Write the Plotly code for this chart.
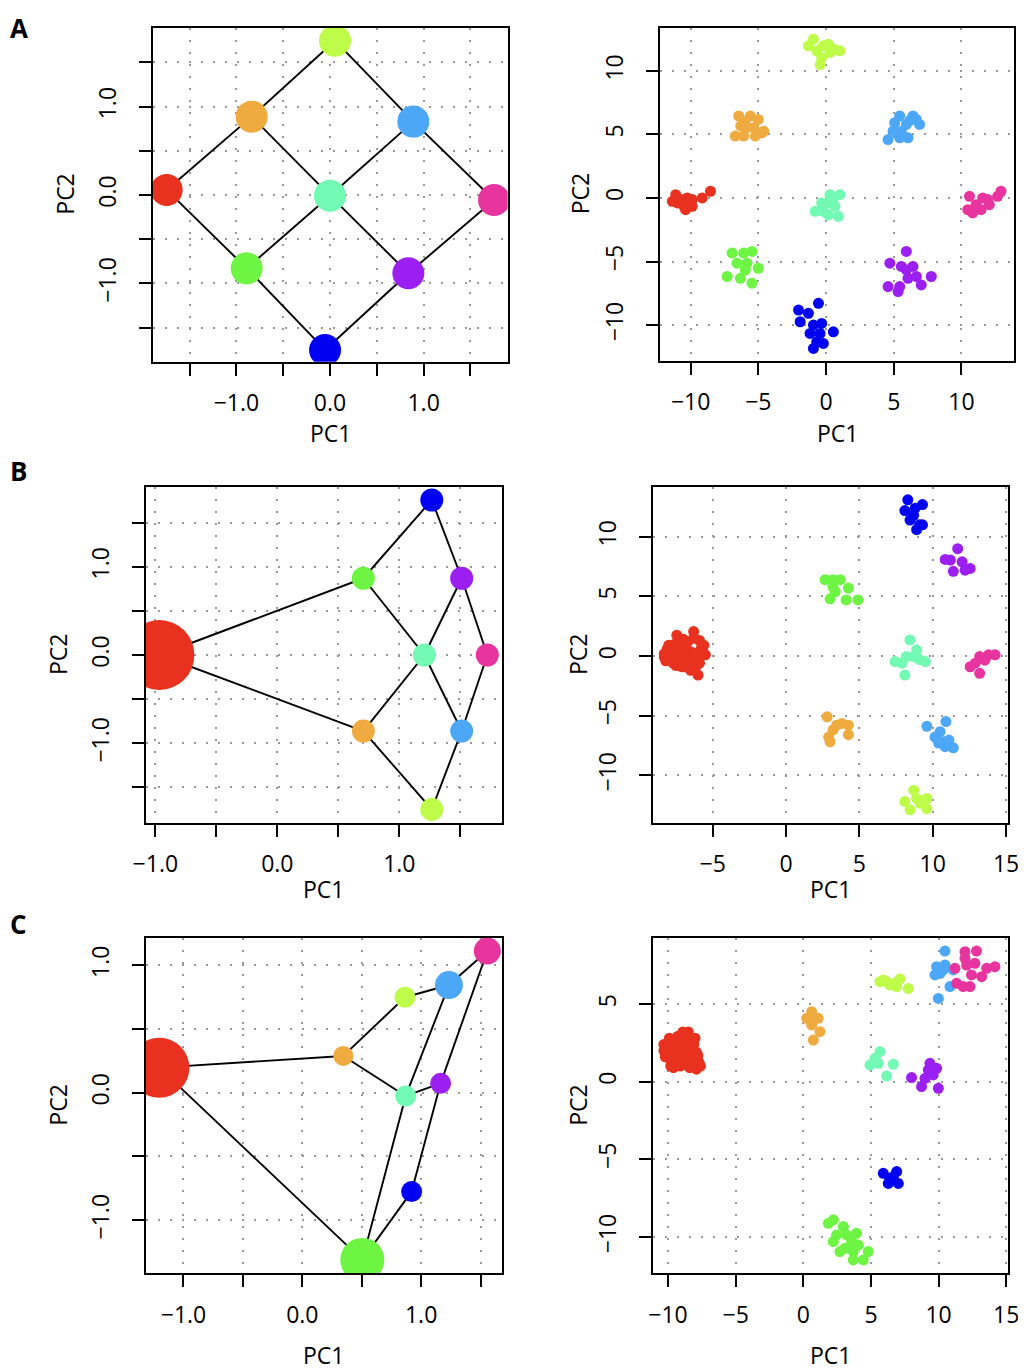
import plotly.graph_objects as go

# the page puts an 8px body margin round the figure
OFF = 8
W, H = 1026 - OFF, 1370 - OFF

# colours of the nine groups
colors = {
    'red': '#E8321F', 'orange': '#F0AB40', 'yg': '#BEFC49', 'green': '#6EF443',
    'aqua': '#72F9B4', 'lightblue': '#4CA7F6', 'darkblue': '#0000F2',
    'purple': '#9A1FF0', 'magenta': '#E8349F',
}
node_names = ['red', 'orange', 'yg', 'green', 'aqua', 'lightblue', 'darkblue', 'purple', 'magenta']

# ---- panel A, network ----
a_node_x = [-1.745, -0.837, 0.053, -0.89, 0.0, 0.89, -0.053, 0.837, 1.752]
a_node_y = [0.057, 0.886, 1.745, -0.83, -0.008, 0.83, -1.753, -0.886, -0.057]
a_node_size = [32, 32, 32, 32, 32, 32, 32, 32, 32]
a_edges = [('red', 'orange'), ('orange', 'yg'), ('yg', 'lightblue'), ('lightblue', 'magenta'),
           ('red', 'green'), ('green', 'darkblue'), ('darkblue', 'purple'), ('purple', 'magenta'),
           ('orange', 'aqua'), ('aqua', 'purple'), ('green', 'aqua'), ('aqua', 'lightblue')]

# ---- panel B, network ----
b_node_x = [-0.967, 0.705, 1.266, 0.705, 1.205, 1.511, 1.266, 1.511, 1.721]
b_node_y = [0.0, -0.862, -1.75, 0.87, 0.0, -0.862, 1.757, 0.87, 0.0]
b_node_size = [70, 23, 23, 23, 23, 23, 23, 23, 23]
b_edges = [('red', 'green'), ('red', 'orange'), ('green', 'darkblue'), ('green', 'aqua'),
           ('darkblue', 'purple'), ('purple', 'aqua'), ('purple', 'magenta'), ('aqua', 'orange'),
           ('aqua', 'lightblue'), ('magenta', 'lightblue'), ('orange', 'yg'), ('lightblue', 'yg')]

# ---- panel C, network ----
c_node_x = [-1.203, 0.345, 0.864, 0.505, 0.87, 1.234, 0.92, 1.164, 1.557]
c_node_y = [0.196, 0.288, 0.748, -1.312, -0.026, 0.844, -0.776, 0.073, 1.111]
c_node_size = [60, 20, 21, 44, 21, 28, 21, 21, 27]
c_edges = [('red', 'orange'), ('red', 'green'), ('orange', 'yg'), ('orange', 'aqua'),
           ('yg', 'lightblue'), ('lightblue', 'magenta'), ('lightblue', 'aqua'), ('magenta', 'purple'),
           ('aqua', 'purple'), ('aqua', 'green'), ('purple', 'darkblue'), ('darkblue', 'green')]

# ---- panel A, samples ----
a_pts = {
    'red': ([-11.1, -10.74, -10.25, -10.98, -10.5, -9.88, -10.37, -9.88, -9.14, -8.53, -11.35],
            [0.26, -0.13, 0.0, -0.39, -0.66, -0.66, -0.92, -0.13, 0.0, 0.53, -0.26]),
    'orange': ([-6.45, -5.59, -5.0, -6.3, -5.34, -4.73, -6.7, -6.08, -5.22, -5.83, -4.6, -6.0],
               [6.45, 6.45, 6.18, 5.66, 5.53, 5.13, 4.87, 4.87, 4.87, 5.53, 5.26, 6.0]),
    'yg': ([-0.93, -1.3, -0.69, 0.17, 0.29, 1.03, -0.44, -0.32, -0.2, 0.6],
           [12.5, 11.97, 11.58, 12.1, 11.45, 11.58, 10.5, 11.05, 11.97, 11.7]),
    'green': ([-6.94, -6.08, -5.47, -6.57, -5.83, -5.0, -7.3, -6.32, -5.47, -5.96],
              [-4.34, -4.34, -4.21, -5.13, -5.13, -5.53, -6.18, -6.32, -6.71, -5.66]),
    'aqua': ([0.29, 1.03, 0.05, 0.66, -0.81, -0.2, 0.91, 0.17, -0.32, 0.5],
             [0.26, 0.26, -0.39, -0.66, -1.05, -1.05, -1.45, -1.32, -0.39, -0.2]),
    'lightblue': ([5.44, 6.42, 5.07, 5.93, 6.91, 5.56, 4.58, 5.44, 6.05, 4.95, 6.67, 6.2],
                  [6.45, 6.45, 5.92, 5.79, 5.79, 5.26, 4.6, 4.74, 4.74, 5.26, 6.18, 6.1]),
    'darkblue': ([-0.56, -2.03, -1.3, -1.91, -0.93, -0.32, 0.54, -1.18, -0.44, -0.69, -0.93, -0.2],
                 [-8.29, -8.82, -9.08, -9.74, -10.0, -9.87, -10.53, -10.66, -10.66, -11.32, -11.84, -11.45]),
    'purple': ([5.93, 4.71, 5.56, 5.93, 6.05, 6.67, 7.77, 7.03, 4.58, 5.32, 5.44, 6.42],
               [-4.21, -5.13, -5.39, -5.66, -6.32, -6.18, -6.18, -6.84, -6.97, -7.37, -6.97, -5.39]),
    'magenta': ([10.59, 11.57, 10.47, 11.08, 12.06, 12.67, 12.92, 10.83, 11.45, 11.94],
                [0.13, 0.0, -0.92, -0.53, -0.53, 0.13, 0.53, -1.18, -0.92, -0.13]),
}

# ---- panel B, samples ----
b_pts = {
    'red': ([-8.3, -8.1, -7.9, -7.6, -7.3, -7.0, -6.7, -6.4, -6.1, -5.8, -8.2, -7.8, -7.5, -7.2, -6.9,
             -6.6, -6.3, -6.0, -5.6, -8.0, -7.7, -7.4, -7.1, -6.8, -6.5, -6.2, -5.9, -5.5, -7.45, -6.3,
             -6.0, -7.0, -6.6, -6.3, -5.9, -7.6, -7.2, -6.8, -7.9, -7.3, -6.7, -6.1, -5.7, -7.6, -7.0,
             -6.4, -8.3, -6.9],
            [0.2, 0.6, -0.2, 1.0, 0.4, -0.4, 1.2, 0.3, -0.8, 0.6, -0.4, 0.1, -0.8, 0.9, 0.0,
             -0.5, 1.5, 0.2, 0.9, 0.9, -0.6, 0.5, -0.9, 0.6, -1.2, -0.3, -0.6, 0.1, 1.75, 2.05,
             -1.6, 1.4, 0.4, -1.1, 1.3, -0.2, 0.2, -0.9, 0.5, -0.1, 0.1, -0.2, 0.4, 0.3, 0.8,
             -0.6, -0.1, -0.9]),
    'orange': ([2.8, 3.8, 4.25, 4.25, 2.9, 3.0, 3.2, 3.45],
               [-5.1, -5.65, -5.8, -6.6, -6.8, -7.2, -6.2, -5.8]),
    'yg': ([8.7, 8.1, 8.45, 9.6, 9.6, 9.15, 8.9],
           [-11.25, -12.2, -12.9, -11.95, -12.8, -12.35, -11.95]),
    'green': ([2.66, 3.2, 3.7, 3.2, 3.0, 4.25, 4.1, 4.9, 3.35],
              [6.4, 6.4, 6.4, 5.8, 4.8, 5.7, 4.7, 4.7, 5.4]),
    'aqua': ([8.45, 8.9, 7.43, 8.2, 8.7, 9.5, 8.1, 7.9, 9.1],
             [1.35, 0.5, -0.47, -0.05, -0.05, -0.47, -1.6, -0.6, -0.3]),
    'lightblue': ([9.6, 10.9, 10.5, 10.15, 10.7, 11.4, 10.85, 10.4, 11.1],
                  [-5.9, -5.5, -6.35, -6.8, -7.2, -7.7, -7.6, -7.3, -7.05]),
    'darkblue': ([8.3, 8.1, 9.3, 8.7, 8.45, 9.1, 8.9, 9.3, 8.8],
                 [13.1, 12.2, 12.7, 11.8, 11.4, 11.0, 10.6, 11.0, 12.4]),
    'purple': ([11.7, 11.2, 12.0, 12.55, 11.4, 12.2, 10.85],
               [9.0, 8.05, 7.9, 7.35, 7.1, 7.2, 8.1]),
    'magenta': ([12.55, 13.2, 13.8, 14.25, 13.2, 12.9, 13.55],
                [-0.9, -0.05, 0.1, 0.1, -1.45, -0.6, -0.35]),
}

# ---- panel C, samples ----
c_pts = {
    'red': ([-10.3, -10.1, -9.9, -9.7, -9.5, -9.3, -9.1, -8.9, -8.7, -8.5, -8.3, -8.1, -7.9, -7.7, -10.2,
             -9.8, -9.4, -9.0, -8.6, -8.2, -7.8, -9.6, -9.2, -8.8, -8.4, -8.0, -7.6, -9.9, -9.5, -9.1,
             -8.7, -8.3, -7.9, -8.9, -8.5, -9.3, -8.1, -9.7, -9.9, -9.3, -8.7, -8.1, -9.6, -9.0, -8.4,
             -7.8, -10.3, -9.2],
            [2.4, 1.9, 2.2, 1.2, 2.6, 1.5, 2.0, 3.2, 1.1, 3.2, 2.5, 1.3, 1.9, 1.2, 1.6,
             1.0, 1.9, 2.7, 1.6, 2.2, 1.7, 0.9, 1.3, 2.3, 0.9, 2.8, 1.0, 2.8, 2.3, 1.0,
             2.7, 1.4, 0.8, 1.6, 1.9, 2.9, 2.4, 1.6, 1.5, 2.4, 2.1, 1.8, 1.9, 1.3, 2.6,
             1.4, 2.0, 2.9]),
    'orange': ([0.62, 0.25, 1.1, 0.62, 1.23, 0.74, 0.49],
               [4.5, 4.08, 4.08, 3.65, 3.22, 2.68, 3.97]),
    'yg': ([5.91, 5.67, 6.4, 7.14, 6.9, 7.76, 6.77, 6.16],
           [6.55, 6.44, 6.22, 6.61, 6.12, 6.0, 6.33, 6.44]),
    'green': ([1.85, 2.22, 2.96, 3.94, 2.46, 3.2, 2.22, 3.57, 2.71, 3.69, 4.8, 3.69, 4.43, 3.08, 4.06],
              [-9.12, -8.9, -9.33, -9.76, -9.87, -9.87, -10.3, -10.3, -10.94, -10.94, -10.94, -11.48,
               -11.48, -10.73, -10.52]),
    'aqua': ([5.67, 4.93, 5.54, 6.65, 6.16, 5.3],
             [1.93, 1.07, 1.18, 1.12, 0.36, 1.5]),
    'lightblue': ([10.47, 9.85, 10.47, 10.1, 9.73, 10.84, 9.98, 10.34, 11.08],
                  [8.41, 7.4, 7.51, 6.97, 6.87, 6.12, 5.36, 7.19, 7.19]),
    'darkblue': ([5.91, 6.9, 6.4, 6.28, 7.02, 6.65],
                 [-5.9, -5.79, -6.22, -6.55, -6.55, -6.12]),
    'purple': ([9.36, 9.85, 8.0, 8.99, 9.6, 8.74, 9.98, 9.24],
               [1.18, 0.86, 0.26, 0.21, 0.43, -0.32, -0.43, 0.75]),
    'magenta': ([11.95, 12.8, 11.21, 12.07, 12.68, 13.55, 14.16, 12.43, 13.18, 11.33, 12.32, 11.82, 11.95],
                [8.37, 8.41, 7.3, 7.51, 7.62, 7.3, 7.4, 6.87, 6.76, 6.33, 6.12, 6.12, 7.94]),
}

# box of every panel in page pixels: left, right, top, bottom
boxes = [
    (152.7, 507.7, 27.7, 361.7), (660.0, 1014.0, 27.7, 361.0),
    (145.7, 501.7, 487.3, 822.7), (653.3, 1008.3, 487.3, 822.7),
    (145.7, 501.7, 938.0, 1273.3), (652.7, 1008.3, 938.3, 1273.3),
]
xranges = [[-1.894, 1.898], [-12.26, 13.88], [-1.079, 1.839], [-9.05, 15.15], [-1.318, 1.678], [-11.13, 15.15]]
yranges = [[-1.886, 1.892], [-12.83, 13.4], [-1.901, 1.901], [-13.98, 14.15], [-1.417, 1.213], [-12.34, 9.23]]

half = [-1.5, -1.0, -0.5, 0.0, 0.5, 1.0, 1.5]
half_txt = ['', '−1.0', '', '0.0', '', '1.0', '']
xticks = [
    (half, half_txt),
    ([-10, -5, 0, 5, 10], ['−10', '−5', '0', '5', '10']),
    ([-1.0, -0.5, 0.0, 0.5, 1.0, 1.5], ['−1.0', '', '0.0', '', '1.0', '']),
    ([-5, 0, 5, 10, 15], ['−5', '0', '5', '10', '15']),
    ([-1.0, -0.5, 0.0, 0.5, 1.0, 1.5], ['−1.0', '', '0.0', '', '1.0', '']),
    ([-10, -5, 0, 5, 10, 15], ['−10', '−5', '0', '5', '10', '15']),
]
yticks = [
    (half, half_txt),
    ([-10, -5, 0, 5, 10], ['−10', '−5', '0', '5', '10']),
    (half, half_txt),
    ([-10, -5, 0, 5, 10], ['−10', '−5', '0', '5', '10']),
    ([-1.0, -0.5, 0.0, 0.5, 1.0], ['−1.0', '', '0.0', '', '1.0']),
    ([-10, -5, 0, 5], ['−10', '−5', '0', '5']),
]

FONT = 'Open Sans'
fig = go.Figure()


def px_x(p):
    return (p - OFF) / W


def px_y(p):
    return 1 - (p - OFF) / H


def add_network(k, nx, ny, sizes, edges):
    xa, ya = 'x%d' % k, 'y%d' % k
    ex, ey = [], []
    for a, b in edges:
        i, j = node_names.index(a), node_names.index(b)
        ex += [nx[i], nx[j], None]
        ey += [ny[i], ny[j], None]
    fig.add_trace(go.Scatter(x=ex, y=ey, mode='lines', line=dict(color='black', width=1.9),
                             xaxis=xa, yaxis=ya, hoverinfo='skip'))
    fig.add_trace(go.Scatter(x=nx, y=ny, mode='markers', xaxis=xa, yaxis=ya,
                             marker=dict(size=sizes, color=[colors[n] for n in node_names],
                                         line=dict(width=0), opacity=1)))


def add_samples(k, pts):
    xa, ya = 'x%d' % k, 'y%d' % k
    for name in node_names:
        px_, py_ = pts[name]
        fig.add_trace(go.Scatter(x=px_, y=py_, mode='markers', xaxis=xa, yaxis=ya,
                                 marker=dict(size=11, color=colors[name], line=dict(width=0))))


add_network(1, a_node_x, a_node_y, a_node_size, a_edges)
add_samples(2, a_pts)
add_network(3, b_node_x, b_node_y, b_node_size, b_edges)
add_samples(4, b_pts)
add_network(5, c_node_x, c_node_y, c_node_size, c_edges)
add_samples(6, c_pts)

axis_common = dict(
    showline=True, mirror=True, linecolor='black', linewidth=1.7,
    ticks='outside', ticklen=12, tickwidth=1.7, tickcolor='black',
    showgrid=True, gridcolor='#999999', gridwidth=1.5, griddash='2px,10px',
    zeroline=False, automargin=False, tickfont=dict(family=FONT, size=23, color='black'),
)

layout = {}
annotations = []
for k in range(6):
    l, r, t, b = boxes[k]
    n = k + 1
    xk = 'xaxis' if n == 1 else 'xaxis%d' % n
    yk = 'yaxis' if n == 1 else 'yaxis%d' % n
    layout[xk] = dict(axis_common, domain=[px_x(l), px_x(r)], range=xranges[k], anchor='y%d' % n,
                      tickmode='array', tickvals=xticks[k][0], ticktext=xticks[k][1],
                      ticklabelstandoff=8)
    layout[yk] = dict(axis_common, domain=[px_y(b), px_y(t)], range=yranges[k], anchor='x%d' % n,
                      tickmode='array', tickvals=yticks[k][0], ticktext=yticks[k][1],
                      tickangle=-90, ticklabelstandoff=14)

# axis titles, page pixel positions
pc1_y = [433, 433, 889, 889, 1355, 1355]
pc2_x = [65, 580, 58, 578, 58, 578]
for k in range(6):
    l, r, t, b = boxes[k]
    annotations.append(dict(text='PC1', x=px_x((l + r) / 2), y=px_y(pc1_y[k]), xref='paper', yref='paper',
                            showarrow=False, font=dict(family=FONT, size=23, color='black'),
                            xanchor='center', yanchor='middle'))
    annotations.append(dict(text='PC2', x=px_x(pc2_x[k]), y=px_y((t + b) / 2), xref='paper', yref='paper',
                            showarrow=False, textangle=-90, font=dict(family=FONT, size=23, color='black'),
                            xanchor='center', yanchor='middle'))

# panel letters; A hangs from the top edge so it is not cut
annotations.append(dict(text='<b>A</b>', x=px_x(8), y=1, xref='paper', yref='paper',
                        showarrow=False, font=dict(family=FONT, size=26, color='black'),
                        xanchor='left', yanchor='top'))
for letter, ly in [('B', 471), ('C', 924)]:
    annotations.append(dict(text='<b>%s</b>' % letter, x=px_x(8), y=px_y(ly), xref='paper', yref='paper',
                            showarrow=False, font=dict(family=FONT, size=26, color='black'),
                            xanchor='left', yanchor='middle'))

fig.update_layout(**layout)
fig.update_layout(
    width=W, height=H, margin=dict(l=0, r=0, t=0, b=0),
    showlegend=False, plot_bgcolor='white', paper_bgcolor='white',
    annotations=annotations,
)

fig.write_html("out.html")
